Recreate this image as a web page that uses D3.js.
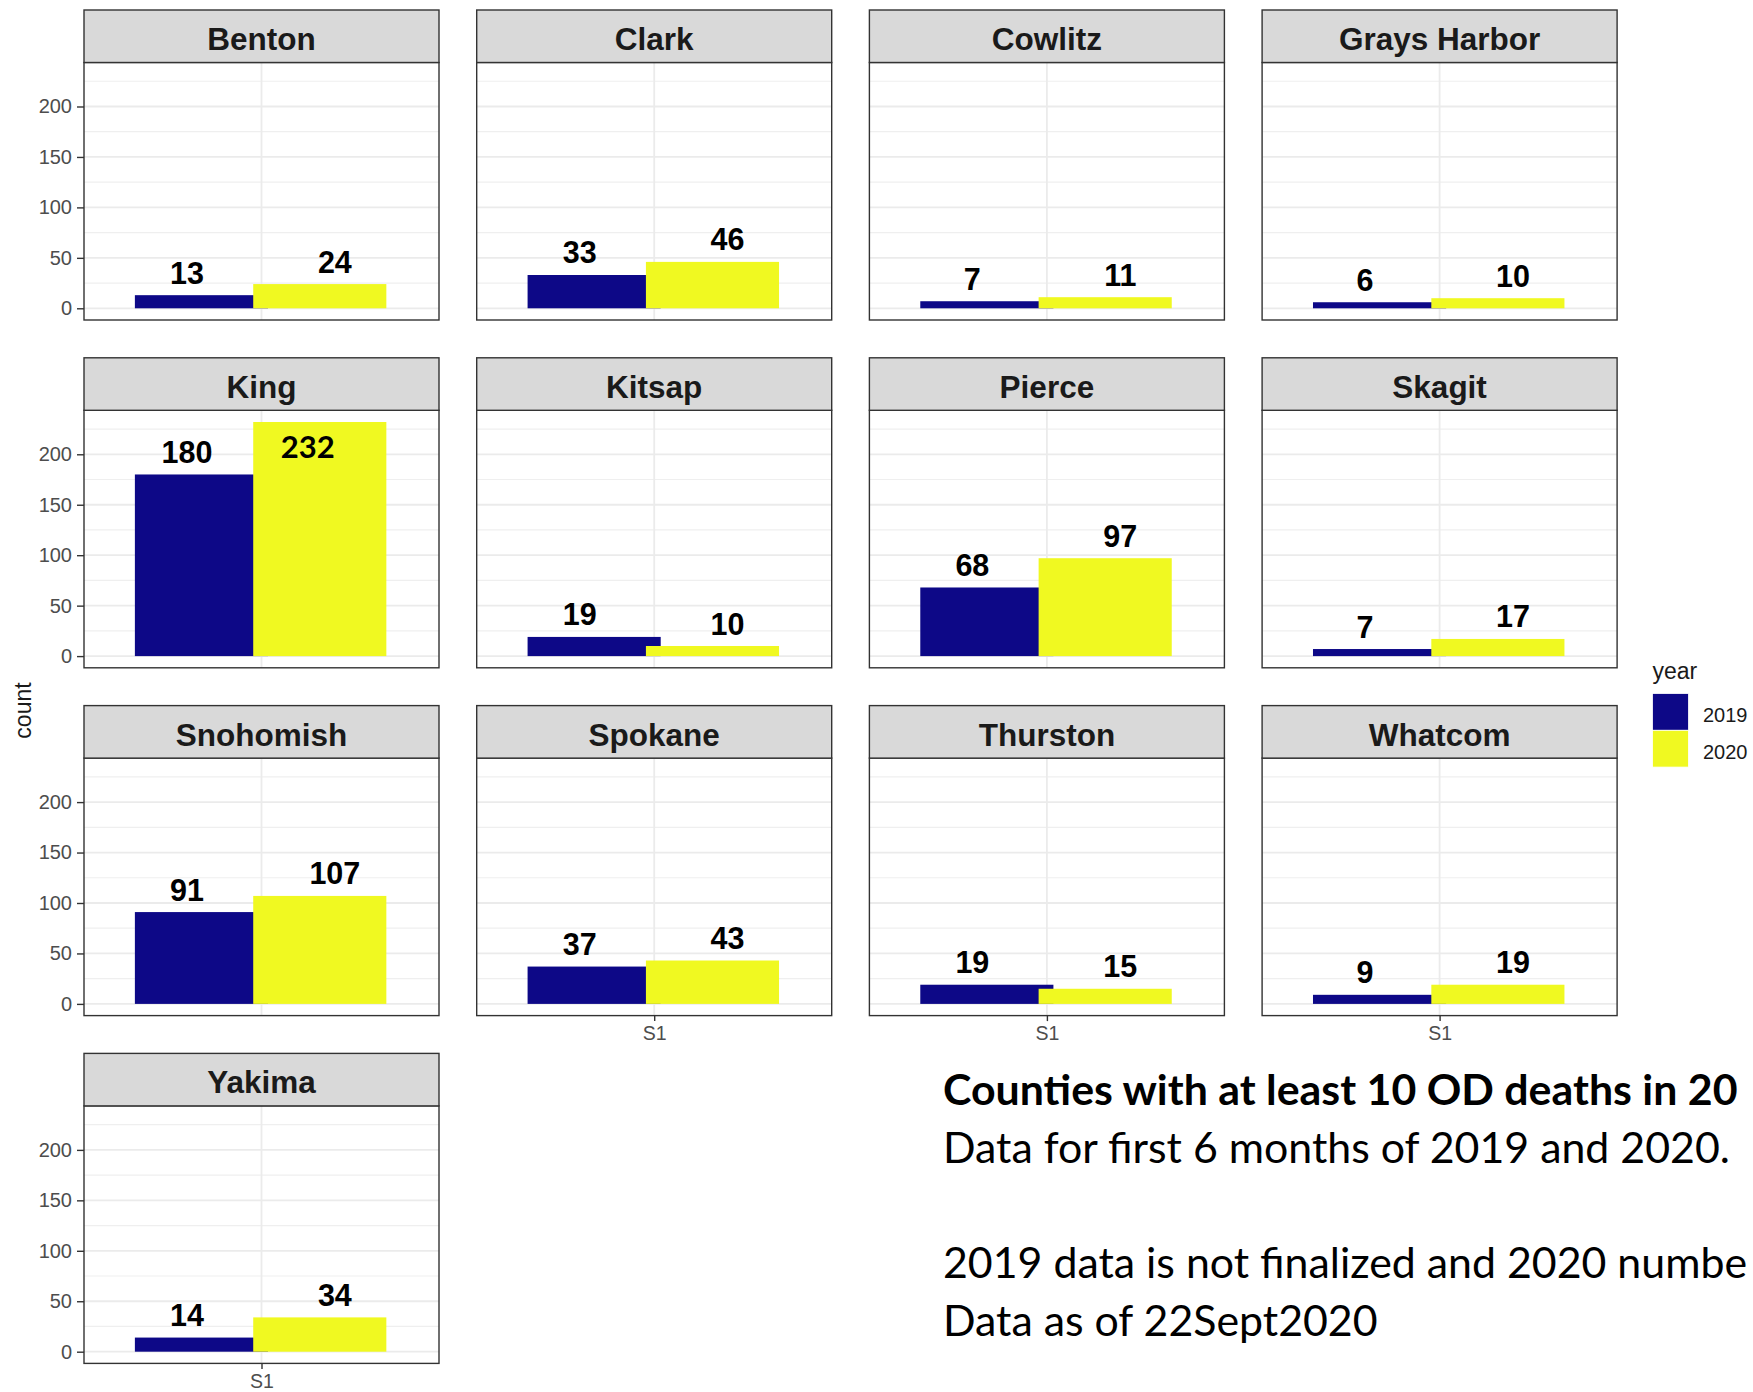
<!DOCTYPE html>
<html>
<head>
<meta charset="utf-8">
<script src="https://cdn.jsdelivr.net/npm/d3@7"></script>
<style>
  html, body { margin: 0; padding: 0; background: #ffffff; overflow: hidden; }
  svg { display: block; }
</style>
</head>
<body>
<svg id="chart" width="1753" height="1392"></svg>
<script>
// ---------------- DATA ----------------
const counties = ["Benton", "Clark", "Cowlitz", "Grays Harbor",
                  "King", "Kitsap", "Pierce", "Skagit",
                  "Snohomish", "Spokane", "Thurston", "Whatcom",
                  "Yakima"];
const years = ["2019", "2020"];
const deaths2019 = [13, 33, 7, 6, 180, 19, 68, 7, 91, 37, 19, 9, 14];
const deaths2020 = [24, 46, 11, 10, 232, 10, 97, 17, 107, 43, 15, 19, 34];
const yTicks = [0, 50, 100, 150, 200];
const yMinorTicks = [25, 75, 125, 175, 225];
const xCategories = ["S1"];
const yearColors = ["#0D0887", "#F0F921"];
const yTitle = "count";
const legendTitle = "year";
// text as visible in the reference (cut by the slide edge)
const noteTitle = "Counties with at least 10 OD deaths in 20";
const noteLines = ["Data for first 6 months of 2019 and 2020.",
                   "",
                   "2019 data is not finalized and 2020 numbe",
                   "Data as of 22Sept2020"];

// ---------------- LAYOUT ----------------
const svg = d3.select("#chart");
const nCols = 4;
const colLeft0 = 84, colStep = 392.7, panelW = 355;
const rowTop0 = 10, rowStep = 347.8;
const stripH = 52.5, panelTotalH = 310;
const armFont = "'Liberation Sans', Arial, sans-serif";
const noteFont = "Lato, 'Open Sans', sans-serif";

const seriesValues = [deaths2019, deaths2020];
const allValues = deaths2019.concat(deaths2020);
const yMax = d3.max(allValues);
const pad = yMax * 0.05;

// x: discrete axis with one category placed at 1, ggplot-like expansion
const xDomain = [0.4, 1.6];
const dodge = [-0.203, 0.197];
const labelDodge = [-0.252, 0.248];
const barWidth = 0.45;

counties.forEach((county, i) => {
  const r = Math.floor(i / nCols), c = i % nCols;
  const left = colLeft0 + c * colStep;
  const top = rowTop0 + r * rowStep;
  const plotTop = top + stripH;
  const plotBottom = top + panelTotalH;

  const x = d3.scaleLinear().domain(xDomain).range([left, left + panelW]);
  const y = d3.scaleLinear().domain([-pad, yMax + pad]).range([plotBottom, plotTop]);

  const g = svg.append("g").attr("class", "panel");

  g.append("rect").attr("x", left).attr("y", plotTop)
    .attr("width", panelW).attr("height", plotBottom - plotTop)
    .attr("fill", "#ffffff");

  // minor grid
  g.selectAll(".minor").data(yMinorTicks).enter().append("line")
    .attr("x1", left).attr("x2", left + panelW)
    .attr("y1", d => y(d)).attr("y2", d => y(d))
    .attr("stroke", "#EFEFEF").attr("stroke-width", 1.2);
  // major grid
  g.selectAll(".major").data(yTicks).enter().append("line")
    .attr("x1", left).attr("x2", left + panelW)
    .attr("y1", d => y(d)).attr("y2", d => y(d))
    .attr("stroke", "#EBEBEB").attr("stroke-width", 1.8);
  g.append("line")
    .attr("x1", x(1)).attr("x2", x(1))
    .attr("y1", plotTop).attr("y2", plotBottom)
    .attr("stroke", "#EBEBEB").attr("stroke-width", 1.8);

  // bars
  const bars = years.map((yr, k) => ({ k, value: seriesValues[k][i] }));
  g.selectAll(".bar").data(bars).enter().append("rect")
    .attr("x", d => x(1 + dodge[d.k] - barWidth / 2))
    .attr("width", d => x(1 + dodge[d.k] + barWidth / 2) - x(1 + dodge[d.k] - barWidth / 2))
    .attr("y", d => y(d.value))
    .attr("height", d => y(0) - y(d.value))
    .attr("fill", d => yearColors[d.k]);

  // value labels
  bars.forEach(d => {
    const baseAbove = y(d.value) - 11.5;
    if (baseAbove - 22 < plotTop) {
      // label that does not fit above the bar: placed inside it
      g.append("text")
        .attr("x", x(1 + dodge[d.k]) - 12)
        .attr("y", y(d.value) + 36)
        .attr("text-anchor", "middle")
        .attr("font-family", noteFont)
        .attr("font-weight", "bold")
        .attr("font-size", 31)
        .attr("fill", "#000000")
        .text(d.value);
    } else {
      g.append("text")
        .attr("x", x(1 + labelDodge[d.k]))
        .attr("y", baseAbove)
        .attr("text-anchor", "middle")
        .attr("font-family", armFont)
        .attr("font-weight", "bold")
        .attr("font-size", 30.5)
        .attr("fill", "#000000")
        .text(d.value);
    }
  });

  // panel border
  g.append("rect").attr("x", left).attr("y", plotTop)
    .attr("width", panelW).attr("height", plotBottom - plotTop)
    .attr("fill", "none").attr("stroke", "#333333").attr("stroke-width", 1.4);

  // strip
  g.append("rect").attr("x", left).attr("y", top)
    .attr("width", panelW).attr("height", stripH)
    .attr("fill", "#D9D9D9").attr("stroke", "#333333").attr("stroke-width", 1.4);
  g.append("text")
    .attr("x", left + panelW / 2).attr("y", top + 40)
    .attr("text-anchor", "middle")
    .attr("font-family", armFont).attr("font-weight", "bold")
    .attr("font-size", 31.5).attr("fill", "#1A1A1A")
    .text(county);

  // y axis on first column
  if (c === 0) {
    const ax = g.append("g").attr("transform", `translate(${left},0)`)
      .call(d3.axisLeft(y).tickValues(yTicks).tickSize(7).tickPadding(5));
    ax.select(".domain").remove();
    ax.selectAll(".tick line").attr("stroke", "#333333").attr("stroke-width", 1.4);
    ax.selectAll(".tick text").attr("font-family", armFont).attr("font-size", 20)
      .attr("fill", "#4D4D4D");
  }

  // x axis on bottom panel of each column
  const belowIndex = i + nCols;
  if (belowIndex >= counties.length) {
    const ax = g.append("g").attr("transform", `translate(0,${plotBottom})`)
      .call(d3.axisBottom(x).tickValues([1]).tickFormat((d, j) => xCategories[j])
        .tickSize(5.5).tickPadding(5.5));
    ax.select(".domain").remove();
    ax.selectAll(".tick line").attr("stroke", "#333333").attr("stroke-width", 1.4);
    ax.selectAll(".tick text").attr("font-family", armFont).attr("font-size", 19.5)
      .attr("fill", "#4D4D4D");
  }
});

// y axis title
svg.append("text")
  .attr("transform", "translate(30.5,710.5) rotate(-90)")
  .attr("text-anchor", "middle")
  .attr("font-family", armFont).attr("font-size", 23).attr("fill", "#1A1A1A")
  .text(yTitle);

// legend
const legend = svg.append("g").attr("class", "legend");
legend.append("text").attr("x", 1652.5).attr("y", 679)
  .attr("font-family", armFont).attr("font-size", 23).attr("fill", "#1A1A1A")
  .text(legendTitle);
years.forEach((yr, k) => {
  legend.append("rect")
    .attr("x", 1652.5).attr("y", 693.5 + k * 36.8)
    .attr("width", 36).attr("height", 36.8)
    .attr("fill", yearColors[k]).attr("stroke", "#ffffff").attr("stroke-width", 0.8);
  legend.append("text")
    .attr("x", 1703).attr("y", 721.5 + k * 37.3)
    .attr("font-family", armFont).attr("font-size", 20).attr("fill", "#1A1A1A")
    .text(yr);
});

// note text
const note = svg.append("g").attr("class", "note");
const probe = note.append("text").attr("font-family", noteFont)
  .attr("font-size", 44).text(noteLines[0]);
const targetW = 787;
const noteSize = 44 * targetW / probe.node().getComputedTextLength();
probe.remove();
const noteX = 943, noteBase = 1105, noteLead = 57.7;
note.append("text").attr("x", noteX).attr("y", noteBase)
  .attr("font-family", noteFont).attr("font-weight", "bold")
  .attr("font-size", noteSize).attr("fill", "#000000")
  .text(noteTitle);
noteLines.forEach((t, k) => {
  if (!t) return;
  note.append("text").attr("x", noteX).attr("y", noteBase + (k + 1) * noteLead)
    .attr("font-family", noteFont)
    .attr("font-size", noteSize).attr("fill", "#000000")
    .text(t);
});
</script>
</body>
</html>
